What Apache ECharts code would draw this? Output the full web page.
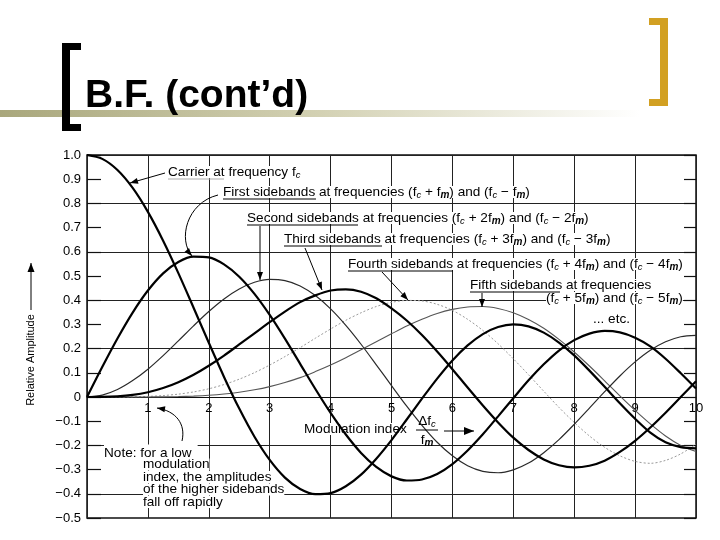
<!DOCTYPE html>
<html>
<head>
<meta charset="utf-8">
<script src="https://cdn.jsdelivr.net/npm/echarts/dist/echarts.min.js"></script>
<style>
html,body{margin:0;padding:0;background:#fff;}
#chart{width:720px;height:540px;}
</style>
</head>
<body>
<div id="chart"></div>
<script>
// ---- data (modulation index vs relative amplitude) ----
const xs = [0,0.25,0.5,0.75,1,1.25,1.5,1.75,2,2.25,2.5,2.75,3,3.25,3.5,3.75,4,4.25,4.5,4.75,5,
            5.25,5.5,5.75,6,6.25,6.5,6.75,7,7.25,7.5,7.75,8,8.25,8.5,8.75,9,9.25,9.5,9.75,10];
const carrier = [1.0,0.984,0.938,0.864,0.765,0.646,0.512,0.369,0.224,0.083,-0.048,-0.164,-0.26,-0.333,-0.38,-0.401,-0.397,-0.369,-0.321,-0.255,-0.178,
                 -0.093,-0.007,0.076,0.151,0.213,0.26,0.289,0.3,0.292,0.266,0.225,0.172,0.109,0.042,-0.026,-0.09,-0.147,-0.187,-0.207,-0.212];
const side1 = [0,0.124,0.242,0.349,0.44,0.511,0.558,0.58,0.577,0.548,0.497,0.426,0.339,0.241,0.137,0.033,-0.066,-0.155,-0.231,-0.289,-0.328,
               -0.345,-0.341,-0.318,-0.277,-0.221,-0.154,-0.08,-0.005,0.069,0.135,0.192,0.235,0.262,0.273,0.267,0.245,0.209,0.158,0.098,0.035];
const side2 = [0,0.0078,0.031,0.068,0.115,0.171,0.232,0.294,0.353,0.405,0.446,0.474,0.486,0.481,0.459,0.419,0.364,0.296,0.218,0.133,0.047,
               -0.038,-0.117,-0.187,-0.243,-0.284,-0.307,-0.313,-0.301,-0.273,-0.23,-0.176,-0.113,-0.046,0.022,0.087,0.145,0.193,0.228,0.249,0.255];
const side3 = [0,0.0003,0.0026,0.0085,0.0196,0.0369,0.061,0.0918,0.129,0.171,0.217,0.263,0.309,0.353,0.392,0.42,0.44,0.445,0.435,0.408,0.366,
               0.316,0.256,0.188,0.115,0.039,-0.035,-0.105,-0.168,-0.219,-0.258,-0.282,-0.291,-0.284,-0.263,-0.227,-0.181,-0.126,-0.065,0.0,0.065];
const side4 = [0,0,0.0002,0.0008,0.0025,0.0059,0.0118,0.0209,0.034,0.0515,0.0737,0.1007,0.132,0.167,0.204,0.243,0.281,0.317,0.348,0.374,0.391,
               0.399,0.397,0.383,0.358,0.321,0.275,0.22,0.158,0.092,0.024,-0.043,-0.105,-0.161,-0.208,-0.243,-0.266,-0.274,-0.262,-0.235,-0.195];
const side5 = [0,0,0,0.0001,0.0002,0.0007,0.0018,0.0038,0.007,0.0121,0.0195,0.0297,0.043,0.06,0.08,0.105,0.132,0.162,0.195,0.228,0.261,
               0.293,0.321,0.345,0.362,0.372,0.374,0.366,0.348,0.32,0.284,0.238,0.186,0.128,0.067,0.005,-0.055,-0.111,-0.161,-0.2,-0.225];
const xTickLabels = ['','1','2','3','4','5','6','7','8','9','10'];
const yTickLabels = ['\u22120.5','\u22120.4','\u22120.3','\u22120.2','\u22120.1','0','0.1','0.2','0.3','0.4','0.5','0.6','0.7','0.8','0.9','1.0'];

const FONT = '"Liberation Sans", Arial, Helvetica, sans-serif';
const chart = echarts.init(document.getElementById('chart'), null, {renderer:'canvas'});

const defs = [
  {name:'Fourth sidebands', data:side4, color:'#9a9a9a', width:1, type:[2,2]},
  {name:'Fifth sidebands', data:side5, color:'#555', width:1.1},
  {name:'Second sidebands', data:side2, color:'#2a2a2a', width:1.2},
  {name:'Carrier', data:carrier, color:'#000', width:2.2},
  {name:'First sidebands', data:side1, color:'#000', width:2.2},
  {name:'Third sidebands', data:side3, color:'#000', width:2.2}
];

const RICH = {
  s:{fontSize:9.5, fontStyle:'italic', fontFamily:FONT, padding:[6,0,0,0], fill:'#000'},
  m:{fontSize:10, fontStyle:'italic', fontWeight:'bold', fontFamily:FONT, padding:[6,0,0,0], fill:'#000'}
};
function label(x,y,text,extra){
  return {type:'text', x:x, y:y, z:1, silent:true,
    style:Object.assign({text:text, fill:'#000', fontSize:13.6, lineHeight:12, fontFamily:FONT, align:'left', verticalAlign:'middle', backgroundColor:'#fff', rich:RICH}, extra||{})};
}
function seg(x1,y1,x2,y2,color,w){
  return {type:'line', z:4, silent:true, shape:{x1:x1,y1:y1,x2:x2,y2:y2}, style:{stroke:color||'#000', lineWidth:w||1}};
}
function head(tx,ty,fx,fy,L,W){
  L=L||8; W=W||3;
  const a=Math.atan2(ty-fy,tx-fx), c=Math.cos(a), s=Math.sin(a);
  return {type:'polygon', z:4, silent:true, shape:{points:[[tx,ty],[tx-L*c+W*s, ty-L*s-W*c],[tx-L*c-W*s, ty-L*s+W*c]]}, style:{fill:'#000'}};
}
function arrow(x1,y1,x2,y2,L,W){ return [seg(x1,y1,x2,y2), head(x2,y2,x1,y1,L,W)]; }
function curveArrow(x1,y1,c1x,c1y,c2x,c2y,x2,y2){
  return [{type:'bezierCurve', z:4, silent:true, shape:{x1:x1,y1:y1,cpx1:c1x,cpy1:c1y,cpx2:c2x,cpy2:c2y,x2:x2,y2:y2}, style:{stroke:'#000', lineWidth:1, fill:null}},
          head(x2,y2,c2x,c2y,8,3)];
}

const graphics = [
  // title block
  {type:'rect', z:0, silent:true, shape:{x:0,y:110,width:640,height:7},
    style:{fill:{type:'linear',x:0,y:0,x2:1,y2:0,colorStops:[{offset:0,color:'#a9a77c'},{offset:0.5,color:'#d3d1b3'},{offset:1,color:'#ffffff'}]}}},
  {type:'rect', z:2, silent:true, shape:{x:62,y:43,width:8,height:88}, style:{fill:'#000'}},
  {type:'rect', z:2, silent:true, shape:{x:62,y:43,width:19,height:7}, style:{fill:'#000'}},
  {type:'rect', z:2, silent:true, shape:{x:62,y:124,width:19,height:7}, style:{fill:'#000'}},
  {type:'rect', z:2, silent:true, shape:{x:660,y:18,width:8,height:88}, style:{fill:'#d2a022'}},
  {type:'rect', z:2, silent:true, shape:{x:649,y:18,width:19,height:7}, style:{fill:'#d2a022'}},
  {type:'rect', z:2, silent:true, shape:{x:649,y:99,width:19,height:7}, style:{fill:'#d2a022'}},
  {type:'text', z:3, silent:true, x:85, y:96, style:{text:'B.F. (cont\u2019d)', fill:'#000', fontSize:39, fontWeight:'bold', fontFamily:FONT, align:'left', verticalAlign:'middle'}},

  // y-axis name
  {type:'text', z:3, silent:true, x:31, y:360, rotation:Math.PI/2,
    style:{text:'Relative Amplitude', fill:'#000', fontSize:11, fontFamily:FONT, align:'center', verticalAlign:'middle'}},
  ...arrow(31,310,31,263,9,3.5),

  // annotations
  label(168,172,'Carrier at frequency f{s|c}'),
  seg(168,179,224,179,'#aaa',1),
  ...arrow(165,173,130,183),

  label(223,192,'First sidebands at frequencies (f{s|c} + f{m|m}) and (f{s|c} \u2212 f{m|m})'),
  seg(223,199,316,199),
  ...curveArrow(218,195,186,203,178,240,192,256),

  label(247,218,'Second sidebands at frequencies (f{s|c} + 2f{m|m}) and (f{s|c} \u2212 2f{m|m})'),
  seg(247,225,358,225),
  ...arrow(260,226,260,280),

  label(284,239,'Third sidebands at frequencies (f{s|c} + 3f{m|m}) and (f{s|c} \u2212 3f{m|m})'),
  seg(284,246,382,246),
  ...arrow(305,248,322,290),

  label(348,264,'Fourth sidebands at frequencies (f{s|c} + 4f{m|m}) and (f{s|c} \u2212 4f{m|m})'),
  seg(348,271,453,271),
  ...arrow(382,272,408,300),

  label(470,285,'Fifth sidebands at frequencies'),
  seg(470,292,560,292),
  label(546,298,'(f{s|c} + 5f{m|m}) and (f{s|c} \u2212 5f{m|m})'),
  ...arrow(482,293,482,307),

  label(593,319,'... etc.'),

  label(304,429,'Modulation index'),
  label(427,421,'\u0394f{s|c}',{align:'center', backgroundColor:null}),
  seg(416,430,438,430),
  label(427,440,'f{m|m}',{align:'center', backgroundColor:null}),
  ...arrow(444,431,474,431,10,4),

  label(104,452,'Note: for a low',{padding:[3,6,0,0]}),
  label(143,464.5,'modulation'),
  label(143,477,'index, the amplitudes'),
  label(143,489.5,'of the higher sidebands'),
  label(143,502,'fall off rapidly'),
  ...curveArrow(182,441,186,424,176,411,157,408)
];

const option = {
  animation:false,
  backgroundColor:'#fff',
  grid:{left:87, right:24, top:155, bottom:22, show:true, borderColor:'#111', borderWidth:1.5, backgroundColor:'transparent'},
  xAxis:{type:'value', min:0, max:10, interval:1, position:'bottom', offset:-121,
    axisLine:{show:true, onZero:false, lineStyle:{color:'#111', width:1.2}},
    axisTick:{show:false},
    axisLabel:{formatter:(v)=>xTickLabels[Math.round(v)]||'', color:'#000', fontSize:13, fontFamily:FONT, margin:5},
    splitLine:{show:true, lineStyle:{color:'#222', width:1}}},
  yAxis:[
    {type:'value', min:-0.5, max:1.0, interval:0.1,
      axisLine:{show:false},
      axisTick:{show:true, inside:true, length:14, lineStyle:{color:'#111', width:1.2}},
      axisLabel:{formatter:(v)=>yTickLabels[Math.round((v+0.5)*10)]||'', color:'#000', fontSize:13, fontFamily:FONT, margin:6},
      splitLine:{show:true, showMinLine:true, showMaxLine:true, lineStyle:{color:['rgba(0,0,0,0)','#222'], width:1}}},
    {type:'value', position:'right', min:-0.5, max:1.0, interval:0.1,
      axisLine:{show:false},
      axisTick:{show:true, inside:true, length:12, lineStyle:{color:'#111', width:1.2}},
      axisLabel:{show:false}, splitLine:{show:false}}
  ],
  series: defs.map(d=>({
    name:d.name, type:'line', yAxisIndex:0, showSymbol:false, smooth:0.3, silent:true, z:2,
    lineStyle:{color:d.color, width:d.width, type:d.type||'solid'},
    data: xs.map((x,i)=>[x, d.data[i]])
  })),
  graphic: graphics
};
chart.setOption(option);
</script>
</body>
</html>
